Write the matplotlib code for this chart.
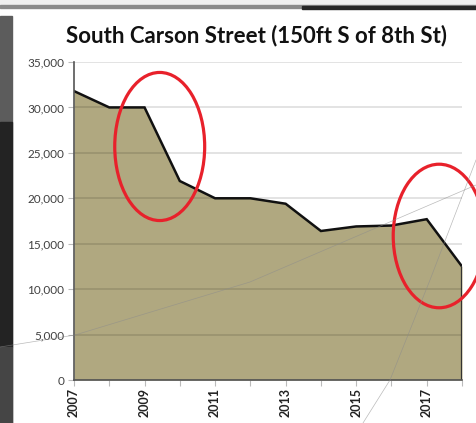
import matplotlib
matplotlib.use("Agg")
import matplotlib.pyplot as plt
from matplotlib.patches import Ellipse, Rectangle
from matplotlib.lines import Line2D
from matplotlib.ticker import FuncFormatter, MultipleLocator

# traffic counts
years = [2007, 2008, 2009, 2010, 2011, 2012, 2013, 2014, 2015, 2016, 2017, 2018]
volumes = [31800, 30000, 30000, 21900, 20000, 20000, 19400, 16400, 16900, 17000, 17700, 12500]
label_years = [2007, 2009, 2011, 2013, 2015, 2017]
title = "South Carson Street (150ft S of 8th St)"

# red annotation ellipses: (center year, center value, width in years, height in count)
marks = [(2009.43, 25700, 2.55, 16300), (2017.35, 15850, 2.6, 15800)]

W, H = 476, 423
plt.rcParams["font.family"] = ["Lato", "DejaVu Sans"]
fig = plt.figure(figsize=(W / 100, H / 100), dpi=100)
fig.patch.set_facecolor("white")


def px(x0, y0, w, h):
    # figure-fraction box from pixel coords (top-left origin)
    return (x0 / W, 1 - (y0 + h) / H, w / W, h / H)


# slide frame around the chart
fig.add_artist(Rectangle(px(0, 0, W, 6)[:2], 1, 6 / H, transform=fig.transFigure,
                         color="#efefef", zorder=0))
fig.add_artist(Rectangle(px(0, 5, W, 3)[:2], 1, 3 / H, transform=fig.transFigure,
                         color="#8a8a8a", zorder=0))
fig.add_artist(Rectangle(px(302, 6, W - 302, 3)[:2], (W - 302) / W, 3 / H,
                         transform=fig.transFigure, color="#262626", zorder=0))
fig.add_artist(Rectangle(px(0, 8, 12, H)[:2], 12 / W, (H - 8) / H,
                         transform=fig.transFigure, color="#5c5c5c", zorder=0))
fig.add_artist(Rectangle(px(0, 122, 12, 225)[:2], 12 / W, 225 / H,
                         transform=fig.transFigure, color="#232323", zorder=0))
fig.add_artist(Rectangle(px(0, 347, 12, 76)[:2], 12 / W, 76 / H,
                         transform=fig.transFigure, color="#454545", zorder=0))
# faint background arcs of the slide theme
fig.add_artist(Line2D([0, 75 / W, 250 / W, 476 / W],
                      [1 - 347 / H, 1 - 335 / H, 1 - 282 / H, 1 - 185 / H],
                      transform=fig.transFigure, color="#8c8c8c", lw=0.5,
                      alpha=0.6, zorder=5))
fig.add_artist(Line2D([363 / W, 390 / W, 430 / W, 476 / W],
                      [1 - 423 / H, 1 - 380 / H, 1 - 280 / H, 1 - 160 / H],
                      transform=fig.transFigure, color="#8c8c8c", lw=0.5,
                      alpha=0.6, zorder=5))

ax = fig.add_axes([74 / W, 1 - 380 / H, (462 - 74) / W, (380 - 62) / H])
ax.set_facecolor("none")

ax.fill_between(years, volumes, 0, color="#b0a880", lw=0, zorder=2)
ax.plot(years, volumes, color="#111111", lw=1.8, zorder=4, solid_joinstyle="miter")
ax.vlines(years[-1], 0, volumes[-1], color="#333333", lw=1.6, zorder=4)

ax.set_xlim(years[0], years[-1])
ax.set_ylim(0, 35000)
ax.yaxis.set_major_locator(MultipleLocator(5000))
ax.yaxis.set_major_formatter(FuncFormatter(lambda v, p: f"{int(v):,}"))
ax.set_xticks(years)
ax.set_xticklabels([str(y) if y in label_years else "" for y in years],
                   rotation=90, fontsize=9, fontweight="bold", color="#222222")

ax.grid(axis="y", color="black", alpha=0.13, lw=1.2, zorder=3)
ax.set_axisbelow(False)
for s in ["top", "right"]:
    ax.spines[s].set_visible(False)
for s in ["left", "bottom"]:
    ax.spines[s].set_color("#555555")
    ax.spines[s].set_linewidth(1.2)
    ax.spines[s].set_zorder(5)
ax.tick_params(axis="y", length=4, color="#bbbbbb", labelsize=8.5, labelcolor="#404040", pad=3)
ax.tick_params(axis="x", length=4, color="#bbbbbb", pad=2)

for cx, cy, w, h in marks:
    ax.add_patch(Ellipse((cx, cy), w, h, fill=False, edgecolor="#e8212b", lw=2.3,
                         zorder=6, clip_on=False))

fig.text(256 / W, 1 - 36 / H, title, ha="center", va="center",
         fontsize=16, fontweight="bold", color="#111111")

fig.savefig("out.png", dpi=100)
